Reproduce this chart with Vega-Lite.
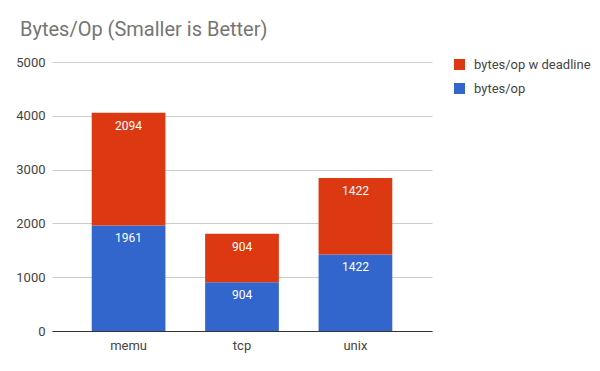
{
  "$schema": "https://vega.github.io/schema/vega-lite/v6.json",
  "autosize": "none",
  "width": 380,
  "height": 269,
  "padding": {"left": 52, "top": 62, "right": 168, "bottom": 40},
  "background": "white",
  "config": {
    "font": "Roboto",
    "view": {"stroke": null}
  },
  "title": {
    "text": "Bytes/Op (Smaller is Better)",
    "anchor": "start",
    "frame": "group",
    "dx": -32,
    "offset": 0,
    "baseline": "alphabetic",
    "fontSize": 20,
    "fontWeight": "normal",
    "color": "#757575",
    "font": "Roboto"
  },
  "data": {
    "values": [
      {"transport": "memu", "series": "bytes/op", "value": 1961},
      {"transport": "memu", "series": "bytes/op w deadline", "value": 2094},
      {"transport": "tcp", "series": "bytes/op", "value": 904},
      {"transport": "tcp", "series": "bytes/op w deadline", "value": 904},
      {"transport": "unix", "series": "bytes/op", "value": 1422},
      {"transport": "unix", "series": "bytes/op w deadline", "value": 1422}
    ]
  },
  "encoding": {
    "x": {
      "field": "transport",
      "type": "nominal",
      "sort": ["memu", "tcp", "unix"],
      "scale": {"paddingInner": 0.35, "paddingOuter": 0.35},
      "axis": {
        "title": null,
        "labelAngle": 0,
        "ticks": false,
        "domainColor": "#333333",
        "labelFontSize": 13,
        "labelColor": "#444444",
        "labelPadding": 8,
        "labelFont": "Roboto"
      }
    },
    "y": {
      "field": "value",
      "type": "quantitative",
      "stack": "zero",
      "scale": {"domain": [0, 5000], "nice": false},
      "axis": {
        "title": null,
        "values": [0, 1000, 2000, 3000, 4000, 5000],
        "format": "d",
        "domain": false,
        "ticks": false,
        "gridColor": "#cccccc",
        "labelFontSize": 13,
        "labelColor": "#444444",
        "labelPadding": 7,
        "labelFont": "Roboto"
      }
    },
    "order": {"field": "series", "sort": "ascending"}
  },
  "layer": [
    {
      "mark": {"type": "bar"},
      "encoding": {
        "color": {
          "field": "series",
          "type": "nominal",
          "scale": {
            "domain": ["bytes/op w deadline", "bytes/op"],
            "range": ["#dc3912", "#3366cc"]
          },
          "legend": {
            "title": null,
            "orient": "none",
            "legendX": 401,
            "legendY": -4,
            "symbolType": "square",
            "symbolSize": 121,
            "symbolStrokeWidth": 0,
            "symbolOpacity": 1,
            "labelFontSize": 13,
            "labelColor": "#444444",
            "labelFont": "Roboto",
            "labelOffset": 8,
            "rowPadding": 10
          }
        }
      }
    },
    {
      "mark": {"type": "text", "color": "white", "fontSize": 12, "dy": 13, "baseline": "middle", "font": "Roboto"},
      "encoding": {
        "text": {"field": "value", "type": "quantitative"}
      }
    }
  ]
}
